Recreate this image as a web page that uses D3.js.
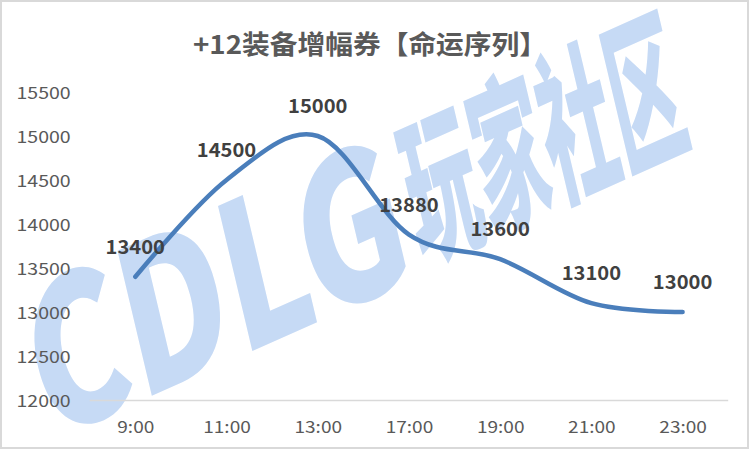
<!DOCTYPE html>
<html>
<head>
<meta charset="utf-8">
<script src="https://cdn.jsdelivr.net/npm/d3@7"></script>
<style>
  html, body { margin: 0; padding: 0; background: #ffffff; }
  svg { display: block; }
  text { font-family: "Microsoft YaHei", "Noto Sans CJK SC", "Noto Sans", sans-serif; }
</style>
</head>
<body>
<svg id="chart" width="752" height="452"></svg>
<script>
const title = "+12装备增幅券【命运序列】";
const categories = ["9:00", "11:00", "13:00", "17:00", "19:00", "21:00", "23:00"];
const values = [13400, 14500, 15000, 13880, 13600, 13100, 13000];
const yTicks = [12000, 12500, 13000, 13500, 14000, 14500, 15000, 15500];
const watermarkLatin = "CDLG";
const watermarkCJK = "玩家社区";

const svg = d3.select("#chart");
const W = 752, H = 452;

svg.append("rect").attr("x", 0).attr("y", 0).attr("width", W).attr("height", H).attr("fill", "#ffffff");

// watermark
const wmColor = "#c6daf5";
const wm = svg.append("g").attr("transform", "matrix(0.9135,-0.4067,0.23,0.973,48,442)");
wm.append("text").text(watermarkLatin)
  .attr("x", 0).attr("y", 0)
  .style("font-size", "200px").style("font-weight", 900)
  .style("font-family", "'Noto Sans CJK SC', sans-serif")
  .attr("textLength", 405).attr("lengthAdjust", "spacingAndGlyphs")
  .attr("fill", wmColor);
wm.append("text").text(watermarkCJK)
  .attr("x", 412).attr("y", -16)
  .style("font-size", "165px").style("font-weight", 900)
  .style("font-family", "'Noto Sans CJK SC', sans-serif")
  .attr("textLength", 298).attr("lengthAdjust", "spacingAndGlyphs")
  .attr("fill", wmColor);

// border
svg.append("rect").attr("x", 1).attr("y", 1).attr("width", 747).attr("height", 447)
  .attr("fill", "none").attr("stroke", "#d9d9d9").attr("stroke-width", 2);

const x = d3.scalePoint().domain(categories).range([89.7, 728.2]).padding(0.5);
const y = d3.scaleLinear().domain([12000, 15500]).range([400, 92]);

function stretch(sel, f) {
  sel.each(function() {
    const len = this.getComputedTextLength();
    d3.select(this).attr("textLength", len * f).attr("lengthAdjust", "spacingAndGlyphs");
  });
}

// y axis
const yAxis = svg.append("g").attr("transform", "translate(89.7,0)")
  .call(d3.axisLeft(y).tickValues(yTicks).tickSize(0).tickPadding(19).tickFormat(d3.format("d")));
yAxis.select(".domain").remove();
yAxis.selectAll("text").style("font-size", "16px").attr("fill", "#595959").attr("dy", "0.4em");
stretch(yAxis.selectAll("text"), 1.22);

// x axis
const xAxis = svg.append("g").attr("transform", "translate(0,400)")
  .call(d3.axisBottom(x).tickSize(0));
xAxis.select(".domain").attr("stroke", "#d9d9d9").attr("stroke-width", 1.5)
  .attr("d", `M89.7,0.5H728.2`);
xAxis.selectAll("text").style("font-size", "16px").attr("fill", "#595959")
  .attr("y", 33).attr("dy", 0);
stretch(xAxis.selectAll("text"), 1.19);

// line
const data = categories.map((c, i) => ({ c, v: values[i] }));
const line = d3.line().x(d => x(d.c)).y(d => y(d.v)).curve(d3.curveCardinal.tension(0));
svg.append("path").datum(data)
  .attr("d", line)
  .attr("fill", "none")
  .attr("stroke", "#4a7ebb")
  .attr("stroke-width", 4.5)
  .attr("stroke-linecap", "round")
  .attr("stroke-linejoin", "round");

// data labels
const lbl = svg.append("g").selectAll("text").data(data).join("text")
  .attr("x", d => x(d.c))
  .attr("y", d => y(d.v) - 23)
  .attr("text-anchor", "middle")
  .style("font-size", "19px").style("font-weight", "bold")
  .attr("fill", "#404040")
  .text(d => d.v);
stretch(lbl, 1.06);

// title
const t = svg.append("text").attr("x", 370).attr("y", 54)
  .attr("text-anchor", "middle")
  .style("font-size", "26px").style("font-weight", "bold")
  .attr("fill", "#595959")
  .text(title);
t.attr("textLength", 354).attr("lengthAdjust", "spacingAndGlyphs");
</script>
</body>
</html>
